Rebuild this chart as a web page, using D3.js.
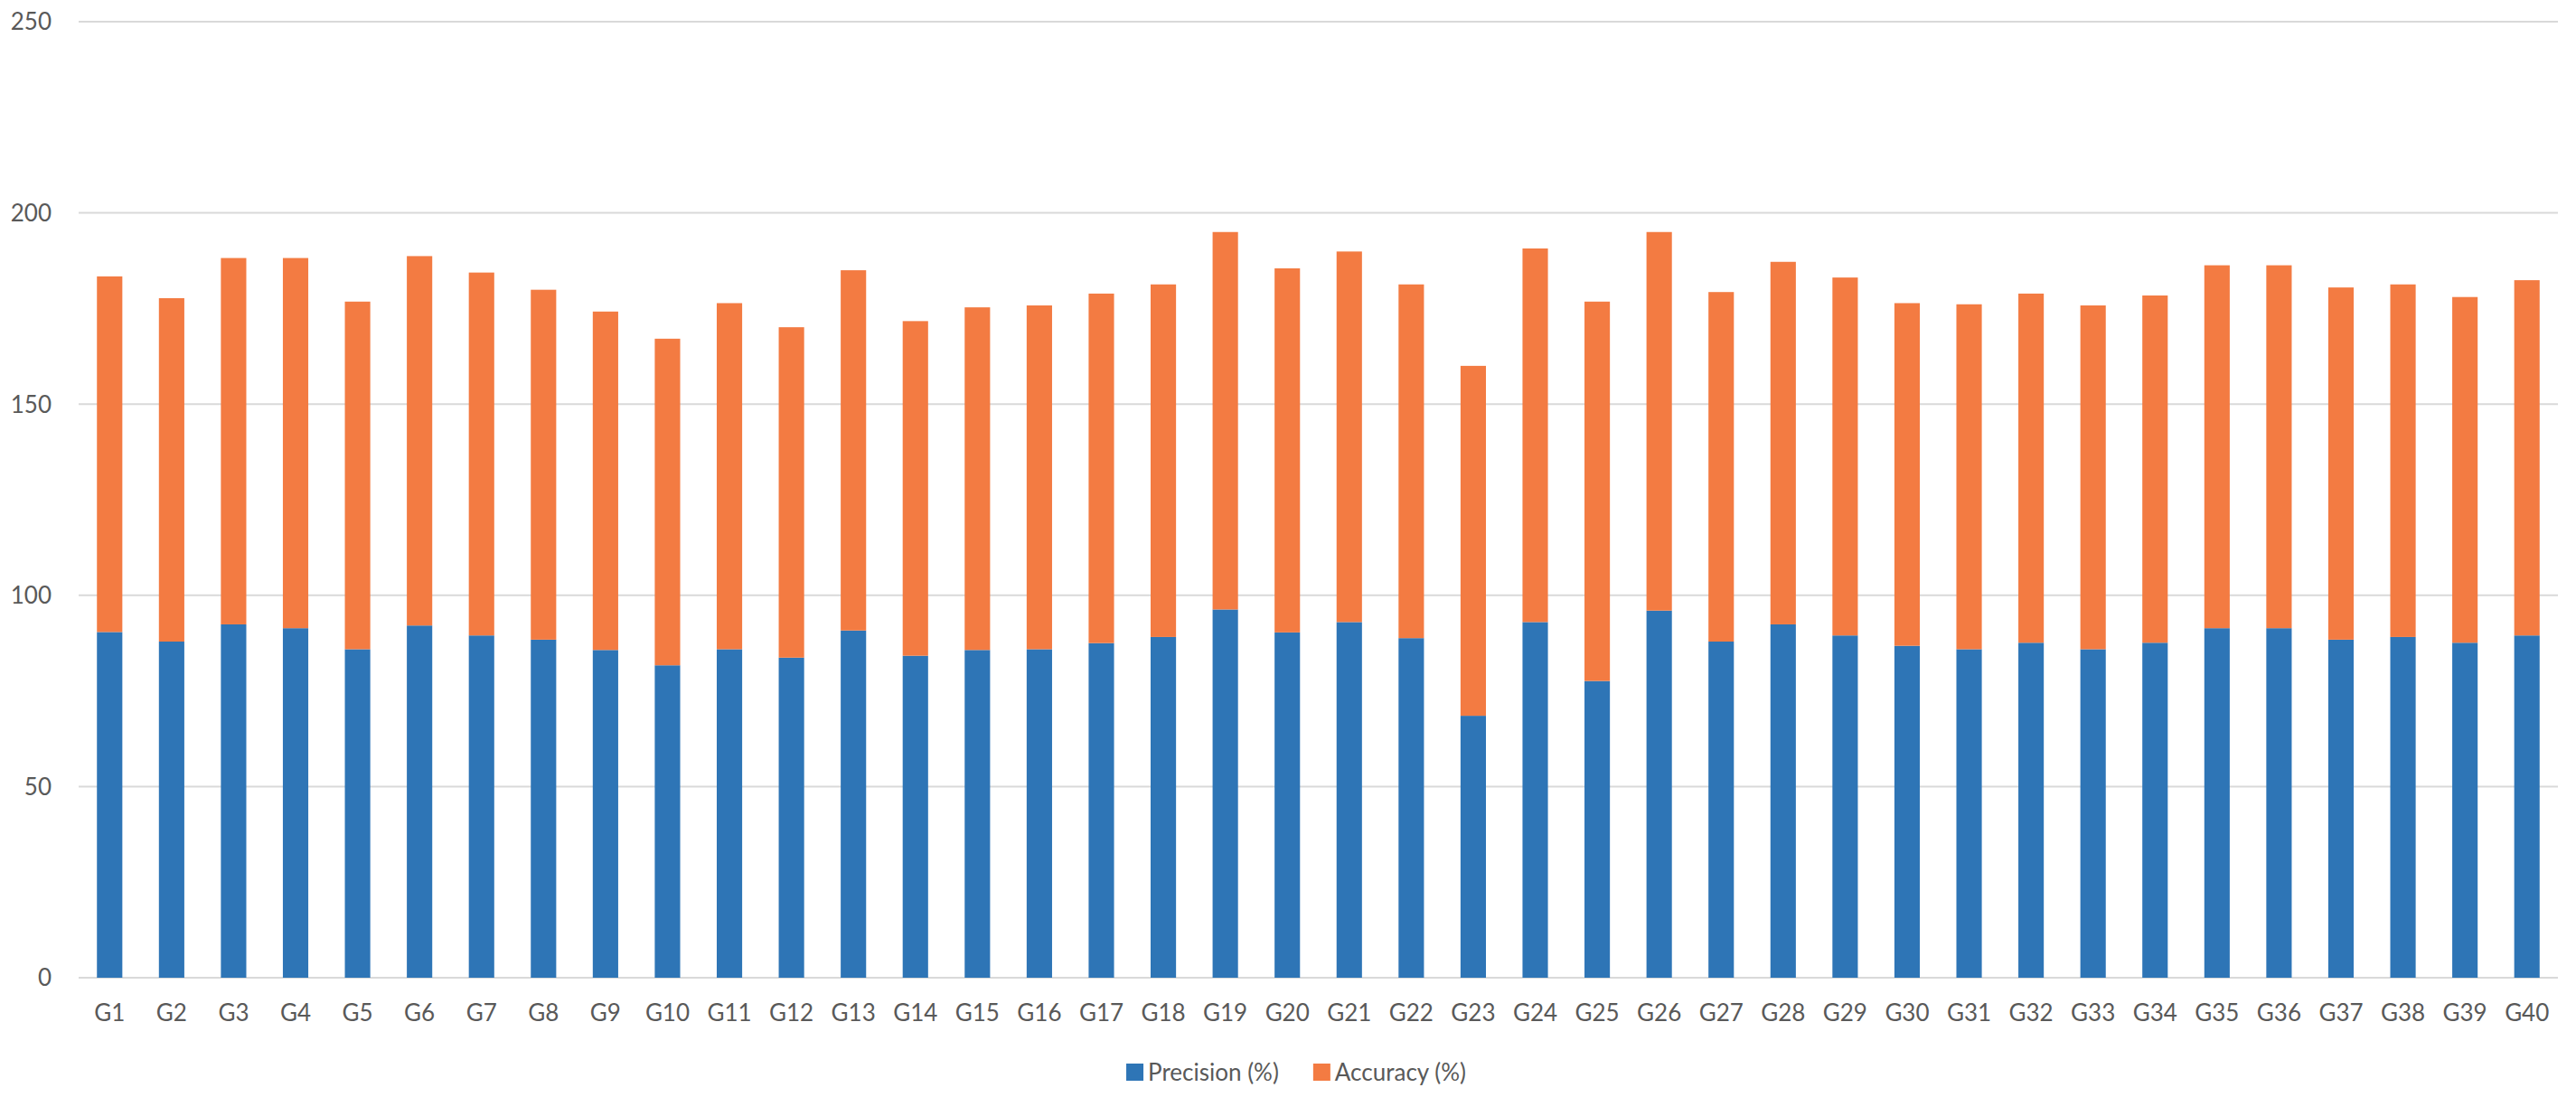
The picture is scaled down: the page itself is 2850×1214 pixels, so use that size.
<!DOCTYPE html>
<html>
<head>
<meta charset="utf-8">
<script src="https://cdn.jsdelivr.net/npm/d3@7"></script>
<style>
  body { margin: 0; background: #fff; }
  text { font-family: Lato, "Open Sans", sans-serif; fill: #595959; }
</style>
</head>
<body>
<div id="chart"></div>
<script>
// Data
const groups = ["G1","G2","G3","G4","G5","G6","G7","G8","G9","G10",
  "G11","G12","G13","G14","G15","G16","G17","G18","G19","G20",
  "G21","G22","G23","G24","G25","G26","G27","G28","G29","G30",
  "G31","G32","G33","G34","G35","G36","G37","G38","G39","G40"];

const precision = [90.4, 87.9, 92.4, 91.4, 85.9, 92.1, 89.5, 88.4, 85.7, 81.7,
  85.9, 83.7, 90.8, 84.2, 85.7, 85.9, 87.5, 89.1, 96.3, 90.3,
  93.0, 88.8, 68.5, 93.0, 77.6, 96.0, 87.9, 92.4, 89.5, 86.8,
  85.9, 87.6, 85.9, 87.6, 91.4, 91.4, 88.4, 89.1, 87.6, 89.5];

const accuracy = [93.0, 89.8, 95.8, 96.8, 90.9, 96.6, 94.9, 91.5, 88.5, 85.4,
  90.5, 86.4, 94.2, 87.5, 89.6, 89.9, 91.4, 92.2, 98.7, 95.2,
  96.9, 92.5, 91.5, 97.7, 99.2, 99.0, 91.4, 94.8, 93.6, 89.6,
  90.2, 91.3, 89.9, 90.8, 94.9, 94.9, 92.1, 92.2, 90.4, 92.9];

const seriesNames = ["Precision (%)", "Accuracy (%)"];
const colors = ["#2E75B6", "#F37B42"];
const yTicks = [0, 50, 100, 150, 200, 250];

// Layout
const W = 2850, H = 1214;
const margin = {top: 24, right: 20, bottom: 132, left: 87};

const svg = d3.select("#chart").append("svg")
  .attr("width", W)
  .attr("height", H);

const x = d3.scaleBand()
  .domain(groups)
  .range([margin.left, W - margin.right])
  .paddingInner(0.59)
  .paddingOuter(0.295);

const y = d3.scaleLinear()
  .domain([0, 250])
  .range([H - margin.bottom, margin.top]);

// gridlines
svg.append("g")
  .selectAll("line")
  .data(yTicks)
  .join("line")
  .attr("x1", margin.left)
  .attr("x2", W - margin.right)
  .attr("y1", d => y(d))
  .attr("y2", d => y(d))
  .attr("stroke", "#D9D9D9")
  .attr("stroke-width", 2);

// y labels
svg.append("g")
  .selectAll("text")
  .data(yTicks)
  .join("text")
  .attr("x", 57)
  .attr("y", d => y(d))
  .attr("dy", "0.36em")
  .attr("text-anchor", "end")
  .attr("font-size", 26)
  .text(d => d);

// stacked bars
const rows = groups.map((g, i) => ({group: g, p: precision[i], a: accuracy[i]}));
const stacked = d3.stack().keys(["p", "a"])(rows);

svg.append("g")
  .selectAll("g")
  .data(stacked)
  .join("g")
  .attr("fill", (d, i) => colors[i])
  .selectAll("rect")
  .data(d => d)
  .join("rect")
  .attr("x", d => x(d.data.group))
  .attr("width", x.bandwidth())
  .attr("y", d => y(d[1]))
  .attr("height", d => y(d[0]) - y(d[1]));

// x labels
svg.append("g")
  .selectAll("text")
  .data(groups)
  .join("text")
  .attr("x", d => x(d) + x.bandwidth() / 2)
  .attr("y", 1121)
  .attr("dy", "0.36em")
  .attr("text-anchor", "middle")
  .attr("font-size", 26)
  .text(d => d);

// legend
const legend = svg.append("g");
let lx = 0;
seriesNames.forEach((name, i) => {
  const item = legend.append("g").attr("transform", `translate(${lx},0)`);
  item.append("rect")
    .attr("x", 0).attr("y", -10)
    .attr("width", 19).attr("height", 19)
    .attr("fill", colors[i]);
  const t = item.append("text")
    .attr("x", 24).attr("y", 0)
    .attr("dy", "0.36em")
    .attr("font-size", 26)
    .text(name);
  lx += 24 + t.node().getComputedTextLength() + 38;
});
const legendW = lx - 38;
legend.attr("transform", `translate(${1434 - legendW / 2},1187)`);
</script>
</body>
</html>
